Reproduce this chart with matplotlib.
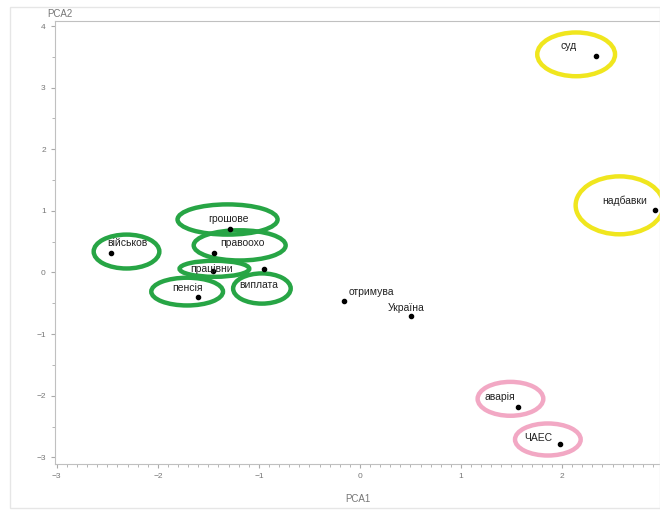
import matplotlib
matplotlib.use("Agg")
import matplotlib.pyplot as plt
from matplotlib.patches import Ellipse, Rectangle
from matplotlib.ticker import MultipleLocator

plt.rcParams['font.family'] = ['Liberation Sans', 'DejaVu Sans']

# === ДАНІ ===
words = ["військов", "грошове", "правоохо", "працівни", "пенсія", "виплата",
         "отримува", "Україна", "суд", "надбавки", "аварія", "ЧАЕС"]
pca1 = [-2.46, -1.29, -1.44, -1.45, -1.60, -0.95, -0.16, 0.51, 2.34, 2.92, 1.56, 1.98]
pca2 = [0.31, 0.71, 0.32, 0.02, -0.39, 0.05, -0.47, -0.70, 3.52, 1.02, -2.18, -2.78]

# зсув підпису від точки (пікселі)
label_dx = [16, -1, 28, -2, -11, -5, 28, -5, -28, -30, -18, -22]
label_dy = [10, 10, 10, 2, 9, -16, 9, 8, 10, 9, 10, 6]

# обведені групи: центр, ширина, висота, колір
ell_x = [-2.31, -1.31, -1.19, -1.44, -1.71, -0.97, 2.14, 2.57, 1.49, 1.86]
ell_y = [0.34, 0.86, 0.44, 0.06, -0.31, -0.26, 3.54, 1.09, -2.05, -2.71]
ell_w = [0.65, 0.99, 0.91, 0.69, 0.71, 0.57, 0.77, 0.87, 0.65, 0.65]
ell_h = [0.55, 0.49, 0.49, 0.26, 0.45, 0.49, 0.71, 0.94, 0.55, 0.52]
ell_c = ["#27a545"] * 6 + ["#f0e61e"] * 2 + ["#f2a8c4"] * 2

fig = plt.figure(figsize=(6.6, 5.14), dpi=100)
ax = fig.add_axes([0.083, 0.097, 0.917, 0.862])

for x, y, w, h, c in zip(ell_x, ell_y, ell_w, ell_h, ell_c):
    ax.add_patch(Ellipse((x, y), w, h, fill=False, edgecolor=c, linewidth=3.2, zorder=2))

ax.scatter(pca1, pca2, s=9, color="black", zorder=3)
for w, x, y, dx, dy in zip(words, pca1, pca2, label_dx, label_dy):
    ax.annotate(w, (x, y), xytext=(dx, dy), textcoords="offset pixels",
                ha="center", va="center", fontsize=7.5, color="#222222", zorder=4)

ax.set_xlim(-3.02, 2.97)
ax.set_ylim(-3.11, 4.08)
ax.xaxis.set_major_locator(MultipleLocator(1))
ax.xaxis.set_minor_locator(MultipleLocator(0.1))
ax.yaxis.set_major_locator(MultipleLocator(1))
ax.yaxis.set_minor_locator(MultipleLocator(0.5))
ax.tick_params(which="both", colors="#aaaaaa", labelcolor="#777777", labelsize=6)
ax.tick_params(which="major", length=3)
ax.tick_params(which="minor", length=2)

for s in ["left", "bottom", "top"]:
    ax.spines[s].set_color("#c0c0c0")
ax.spines["right"].set_visible(False)

ax.set_xlabel("PCA1", fontsize=7, color="#777777", labelpad=10)
fig.text(0.09, 0.972, "PCA2", fontsize=7, color="#777777", ha="center", va="center")

# рамка навколо всього малюнка
fig.patches.append(Rectangle((0.015, 0.012), 0.985, 0.975, transform=fig.transFigure,
                             fill=False, edgecolor="#e6e6e6", linewidth=1))

fig.savefig("out.png", dpi=100)
